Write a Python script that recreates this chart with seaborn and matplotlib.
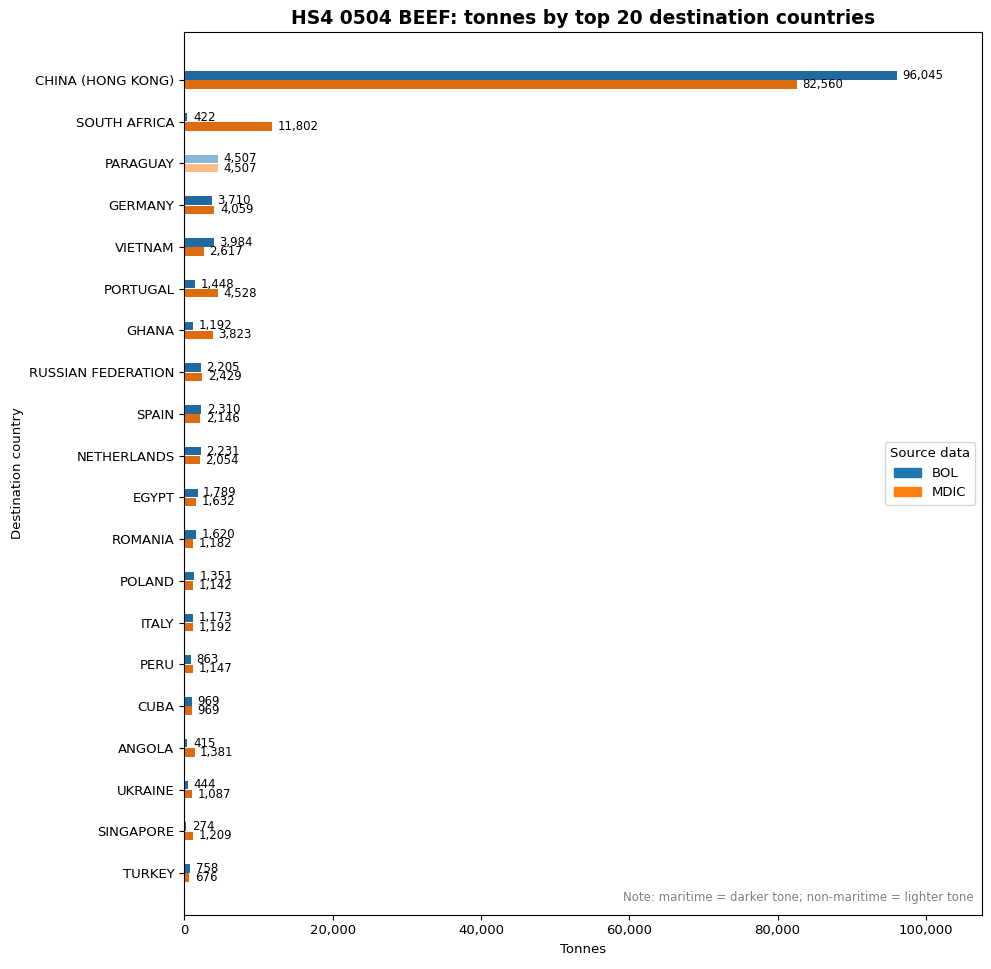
import numpy as np
import pandas as pd
import matplotlib
matplotlib.use("Agg")
import matplotlib.pyplot as plt
from matplotlib.patches import Patch
import seaborn as sns

# top 20 destinations, tonnes
countries = ["CHINA (HONG KONG)", "SOUTH AFRICA", "PARAGUAY", "GERMANY", "VIETNAM",
             "PORTUGAL", "GHANA", "RUSSIAN FEDERATION", "SPAIN", "NETHERLANDS",
             "EGYPT", "ROMANIA", "POLAND", "ITALY", "PERU", "CUBA", "ANGOLA",
             "UKRAINE", "SINGAPORE", "TURKEY"]
bol = [96045, 422, 4507, 3710, 3984, 1448, 1192, 2205, 2310, 2231,
       1789, 1620, 1351, 1173, 863, 969, 415, 444, 274, 758]
mdic = [82560, 11802, 4507, 4059, 2617, 4528, 3823, 2429, 2146, 2054,
        1632, 1182, 1142, 1192, 1147, 969, 1381, 1087, 1209, 676]
maritime = [c != "PARAGUAY" for c in countries]

df = pd.DataFrame({
    "Country": countries * 2,
    "Tonnes": bol + mdic,
    "Source": ["BOL"] * len(countries) + ["MDIC"] * len(countries),
})

dark = {"BOL": "#1f6b9f", "MDIC": "#dd6c10"}
light = {"BOL": "#89b7d8", "MDIC": "#ffbb80"}

fig, ax = plt.subplots(figsize=(9.91, 9.69), dpi=100)
sns.barplot(data=df, y="Country", x="Tonnes", hue="Source", order=countries,
            hue_order=["BOL", "MDIC"], orient="h", width=0.44, gap=0.08,
            palette=dark, errorbar=None, legend=False, ax=ax)

xmax = max(bol + mdic) * 1.12
for src, cont, vals in zip(["BOL", "MDIC"], ax.containers, [bol, mdic]):
    for bar, v, m in zip(cont, vals, maritime):
        bar.set_facecolor(dark[src] if m else light[src])
        y = bar.get_y() + bar.get_height() / 2
        ax.annotate(f"{v:,}", (bar.get_width(), y), xytext=(4, 0),
                    textcoords="offset points", va="center", ha="left", fontsize=8.5)

ax.set_xlim(0, xmax)
ax.set_ylim(len(countries) - 1 + 1.0, -1.15)
ax.xaxis.set_major_formatter(matplotlib.ticker.FuncFormatter(lambda x, p: f"{x:,.0f}"))
ax.tick_params(labelsize=9.5)
ax.set_xlabel("Tonnes", fontsize=9.5)
ax.set_ylabel("Destination country", fontsize=9.5)
ax.set_title("HS4 0504 BEEF: tonnes by top 20 destination countries",
             fontsize=13.5, fontweight="bold")

handles = [Patch(color="#1f77b4", label="BOL"), Patch(color="#ff7f0e", label="MDIC")]
ax.legend(handles=handles, title="Source data", loc="center right",
          fontsize=9.5, title_fontsize=9.5)
ax.text(0.99, 0.012, "Note: maritime = darker tone; non-maritime = lighter tone",
        transform=ax.transAxes, ha="right", va="bottom", fontsize=8.5, color="gray")

plt.subplots_adjust(left=0.186, right=0.991, top=0.967, bottom=0.056)
plt.savefig("out.png", dpi=100)
